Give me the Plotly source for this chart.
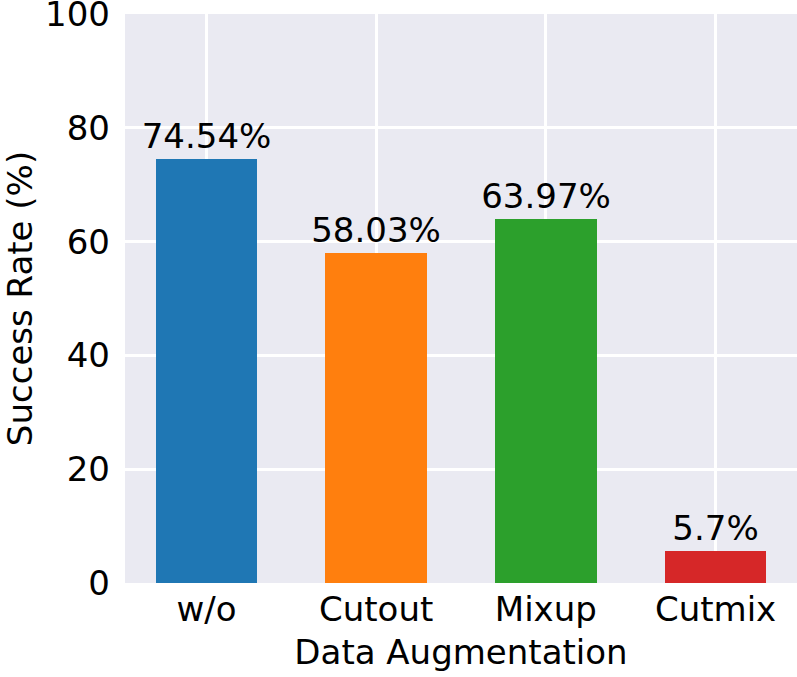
"""
Success rate by data augmentation method.
"""

import plotly.graph_objects as go

METHODS = ["w/o", "Cutout", "Mixup", "Cutmix"]
SUCCESS_RATE = [74.54, 58.03, 63.97, 5.7]
BAR_LABELS = ["74.54%", "58.03%", "63.97%", "5.7%"]
BAR_COLORS = ["#1f77b4", "#ff7f0e", "#2ca02c", "#d62728"]
Y_TICKS = [0, 20, 40, 60, 80, 100]

FONT = "DejaVu Sans"
SIZE = 34

fig = go.Figure(
    go.Bar(
        x=list(range(len(METHODS))),
        y=SUCCESS_RATE,
        width=0.6,
        marker_color=BAR_COLORS,
        marker_line_width=0,
        text=BAR_LABELS,
        textposition="outside",
        constraintext="none",
        textfont=dict(family=FONT, size=SIZE, color="black"),
        cliponaxis=False,
    )
)

fig.update_layout(
    width=797,
    height=677,
    margin=dict(l=125, r=0, t=14, b=94),
    paper_bgcolor="white",
    plot_bgcolor="#EAEAF2",
    font=dict(family=FONT, size=SIZE, color="black"),
    showlegend=False,
    bargap=0,
)

fig.update_xaxes(
    range=[-0.48, 3.48],
    tickmode="array",
    tickvals=list(range(len(METHODS))),
    ticktext=METHODS,
    showgrid=True,
    gridcolor="white",
    gridwidth=3,
    zeroline=False,
    ticks="",
    ticklabelstandoff=3,
    automargin=False,
    tickfont=dict(size=SIZE),
    title=dict(text="Data Augmentation", font=dict(size=SIZE), standoff=12),
)

fig.update_yaxes(
    range=[0, 100],
    tickmode="array",
    tickvals=Y_TICKS,
    showgrid=True,
    gridcolor="white",
    gridwidth=3,
    zeroline=False,
    ticks="",
    ticklabelstandoff=14,
    ticklabeloverflow="allow",
    automargin=False,
    tickfont=dict(size=SIZE),
    title=dict(text="Success Rate (%)", font=dict(size=SIZE), standoff=18),
)

# drop the page's default body margin so the figure sits at the window corner
fig.write_html(
    "out.html",
    config={"displayModeBar": False},
    post_script="document.body.style.margin = '0';",
)
